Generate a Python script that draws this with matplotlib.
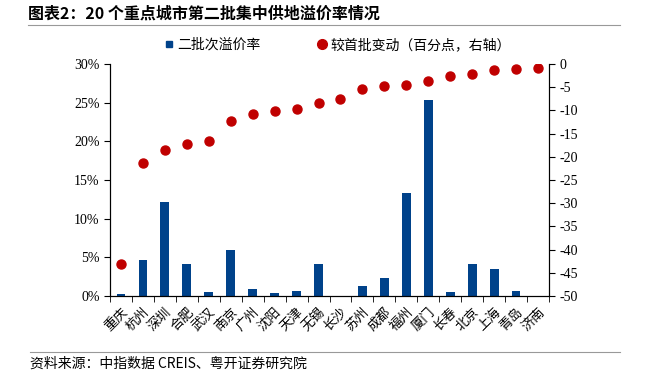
import numpy as np
import matplotlib.pyplot as plt
from matplotlib.lines import Line2D

plt.rcParams['font.family'] = ['Noto Sans CJK SC', 'DejaVu Sans']

cities = ['重庆', '杭州', '深圳', '合肥', '武汉', '南京', '广州', '沈阳', '天津', '无锡',
          '长沙', '苏州', '成都', '福州', '厦门', '长春', '北京', '上海', '青岛', '济南']
premium = [0.26, 4.6, 12.2, 4.2, 0.47, 6.0, 0.95, 0.39, 0.65, 4.2,
           0.0, 1.33, 2.3, 13.3, 25.4, 0.52, 4.2, 3.45, 0.65, 0.0]
change = [-43.0, -21.3, -18.5, -17.2, -16.5, -12.2, -10.7, -10.1, -9.8, -8.4,
          -7.6, -5.3, -4.8, -4.5, -3.7, -2.5, -2.1, -1.4, -1.1, -0.8]

bar_color = '#00428A'
dot_color = '#C00000'
serif = ['Liberation Serif', 'DejaVu Serif']

fig = plt.figure(figsize=(6.48, 3.73), dpi=100)
ax = fig.add_axes([110/648, 1-296/373, (549-110)/648, (296-64)/373])
xx = np.arange(len(cities))
ax.bar(xx, premium, width=0.4, color=bar_color, zorder=2)
ax.set_xlim(-0.5, len(cities)-0.5)
ax.set_ylim(0, 30)
ax.set_yticks(np.arange(0, 31, 5))
ax.set_yticklabels(['{:d}%'.format(int(y)) for y in np.arange(0, 31, 5)], fontfamily=serif, fontsize=10)
ax.set_xticks(xx)
ax.set_xticklabels(cities, rotation=45, fontsize=9.5, ha='right', va='top', rotation_mode='anchor')
ax.tick_params(axis='x', length=0, pad=7)
ax.set_xticks(np.arange(-0.5, len(cities), 1), minor=True)
ax.tick_params(axis='x', which='minor', length=4, direction='out')
ax.tick_params(axis='y', length=4, direction='out')
ax.spines['top'].set_visible(False)

ax2 = ax.twinx()
ax2.plot(xx, change, 'o', color=dot_color, ms=6.5, zorder=3)
ax2.set_ylim(-50, 0)
ax2.set_yticks(np.arange(-50, 1, 5))
ax2.set_yticklabels([str(v) for v in np.arange(-50, 1, 5)], fontfamily=serif, fontsize=10)
ax2.tick_params(axis='y', length=4, direction='out')
ax2.spines['top'].set_visible(False)

handles = [Line2D([], [], marker='s', ls='', color=bar_color, ms=5),
           Line2D([], [], marker='o', ls='', color=dot_color, ms=7)]
fig.legend(handles, ['二批次溢价率', '较首批变动（百分点，右轴）'], loc='center',
           bbox_to_anchor=(0.52, 1-45/373), ncol=2, frameon=False, fontsize=10,
           handletextpad=0.2, columnspacing=4, handlelength=0.8)

fig.text(28/648, 1-14/373, '图表2：20 个重点城市第二批集中供地溢价率情况', fontsize=11.5,
         fontweight='bold', va='center', ha='left')
fig.add_artist(Line2D([28/648, 620/648], [1-25/373, 1-25/373], color='#999999', lw=0.8))
fig.add_artist(Line2D([30/648, 620/648], [1-352/373, 1-352/373], color='#999999', lw=0.8))
fig.text(30/648, 1-364/373, '资料来源：中指数据 CREIS、粤开证券研究院', fontsize=10,
         style='italic', va='center', ha='left')

fig.savefig('out.png', dpi=100)
